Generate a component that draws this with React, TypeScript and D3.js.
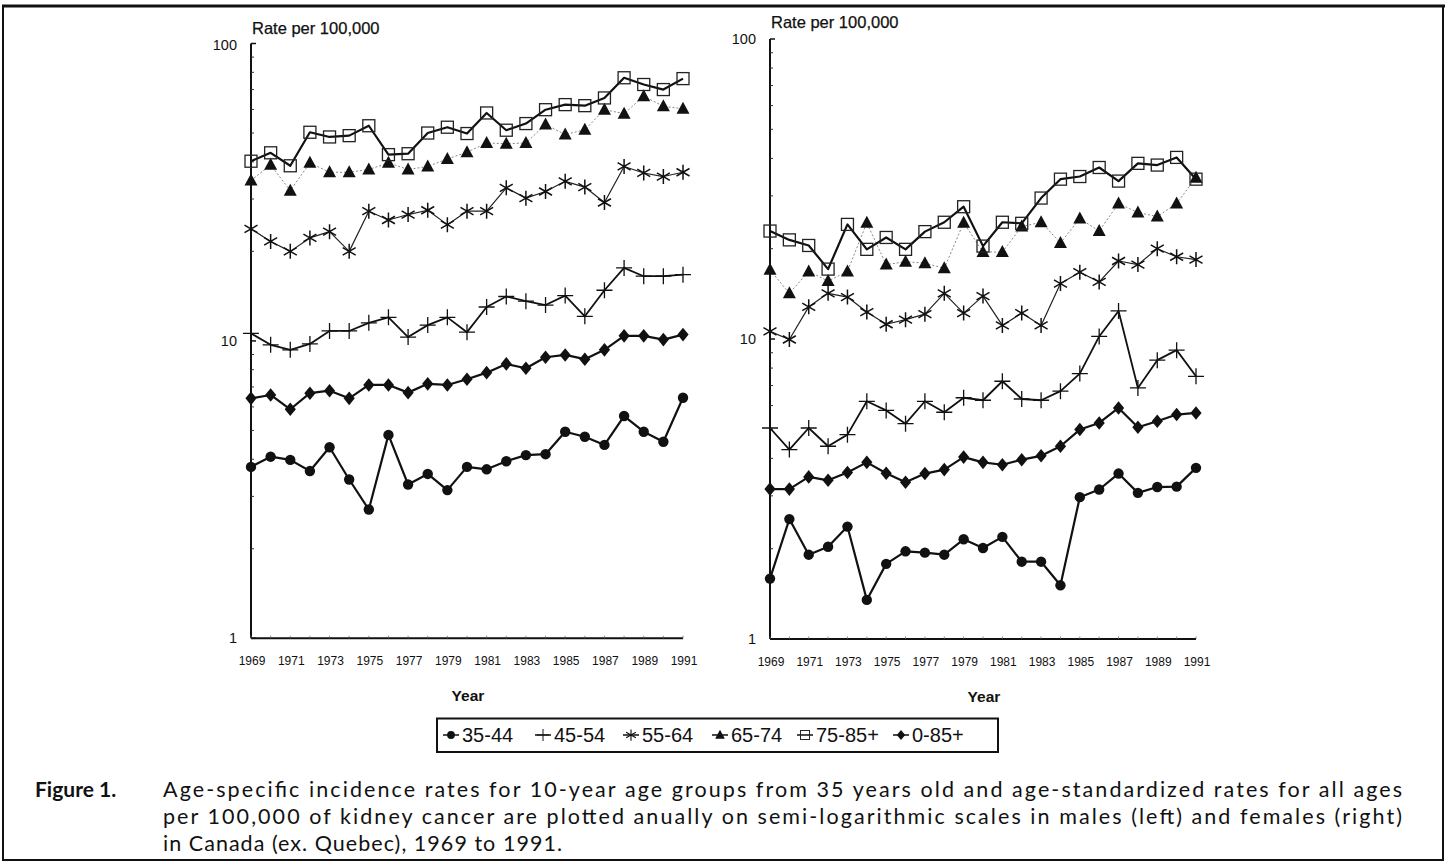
import React from "react";
import * as d3 from "d3";

const years = d3.range(1969, 1992);
const yearLabels = [1969, 1971, 1973, 1975, 1977, 1979, 1981, 1983, 1985, 1987, 1989, 1991];
const yTickLabels = [1, 10, 100];
const seriesNames = ["35-44", "45-54", "55-64", "65-74", "75-85+", "0-85+"];

// Males (left panel)
const m3544 = [3.77, 4.08, 3.98, 3.65, 4.39, 3.42, 2.71, 4.83, 3.29, 3.57, 3.15, 3.77, 3.7, 3.94, 4.13, 4.16, 4.95, 4.76, 4.47, 5.59, 4.95, 4.58, 6.44];
const m4554 = [10.6, 9.7, 9.33, 9.77, 10.8, 10.8, 11.5, 12.0, 10.3, 11.3, 12.0, 10.7, 13.0, 14.1, 13.6, 13.2, 14.2, 12.1, 14.8, 17.6, 16.5, 16.5, 16.7];
const m5564 = [23.8, 21.6, 20.0, 22.2, 23.3, 20.0, 27.3, 25.5, 26.6, 27.5, 24.6, 27.3, 27.3, 32.7, 30.2, 31.8, 34.4, 32.9, 29.2, 38.6, 36.7, 35.7, 36.9];
const m6574 = [34.6, 39.1, 32.0, 39.7, 36.9, 36.9, 37.7, 39.7, 37.7, 38.6, 40.9, 43.1, 46.3, 46.0, 46.3, 53.4, 49.4, 51.3, 59.9, 58.1, 66.5, 61.5, 60.3];
const m7585 = [40.2, 42.9, 38.8, 50.3, 48.5, 49.0, 52.9, 42.3, 42.6, 50.0, 52.3, 49.8, 58.4, 51.1, 53.8, 59.9, 62.3, 61.8, 65.6, 76.7, 72.8, 70.0, 76.2];
const m085 = [6.41, 6.58, 5.89, 6.67, 6.8, 6.41, 7.11, 7.11, 6.7, 7.17, 7.11, 7.43, 7.82, 8.37, 8.09, 8.81, 8.97, 8.68, 9.33, 10.4, 10.4, 10.1, 10.5];

// Females (right panel)
const f3544 = [1.59, 2.51, 1.91, 2.03, 2.37, 1.35, 1.78, 1.96, 1.94, 1.91, 2.15, 2.01, 2.19, 1.81, 1.81, 1.51, 2.97, 3.15, 3.56, 3.07, 3.21, 3.22, 3.72];
const f4554 = [5.05, 4.28, 5.05, 4.39, 4.8, 6.2, 5.78, 5.22, 6.2, 5.7, 6.37, 6.25, 7.23, 6.31, 6.25, 6.7, 7.67, 10.2, 12.4, 6.87, 8.5, 9.18, 7.51];
const f5564 = [10.6, 9.96, 12.8, 14.2, 13.8, 12.3, 11.2, 11.6, 12.1, 14.2, 12.2, 13.9, 11.1, 12.2, 11.1, 15.3, 16.7, 15.5, 18.2, 17.7, 20.0, 18.8, 18.4];
const f6574 = [17.0, 14.2, 16.8, 15.6, 16.8, 24.4, 17.7, 18.1, 17.9, 17.2, 24.4, 19.5, 19.5, 23.7, 24.5, 20.9, 25.2, 22.9, 28.3, 26.4, 25.6, 28.3, 34.5];
const f7585 = [22.9, 21.4, 20.5, 17.1, 24.1, 19.9, 21.8, 19.9, 22.8, 24.5, 27.6, 20.4, 24.5, 24.3, 29.5, 34.1, 34.8, 37.3, 33.6, 38.5, 38.0, 40.3, 34.1];
const f085 = [3.16, 3.16, 3.47, 3.38, 3.59, 3.88, 3.57, 3.33, 3.56, 3.67, 4.04, 3.88, 3.81, 3.96, 4.08, 4.39, 4.99, 5.25, 5.89, 5.08, 5.32, 5.6, 5.67];

const captionLines = [
  "Age-specific incidence rates for 10-year age groups from 35 years old and age-standardized rates for all ages",
  "per 100,000 of kidney cancer are plotted anually on semi-logarithmic scales in males (left) and females (right)",
  "in Canada (ex. Quebec), 1969 to 1991.",
];
const captionWidths = [1239, 1239, 399];

type Style = { marker: string; width: number; color: string; dash?: string };
const styles: Style[] = [
  { marker: "circle", width: 2.2, color: "#111" },
  { marker: "plus", width: 1.8, color: "#111" },
  { marker: "star", width: 1.2, color: "#222" },
  { marker: "triangle", width: 1, color: "#888", dash: "2,2" },
  { marker: "square", width: 2.2, color: "#111" },
  { marker: "diamond", width: 2.2, color: "#111" },
];

function Marker({ kind, x, y, s = 1 }: { kind: string; x: number; y: number; s?: number }) {
  const t = `translate(${x},${y}) scale(${s})`;
  if (kind === "circle") return <circle cx={x} cy={y} r={5.2 * s} fill="#111" />;
  if (kind === "plus")
    return <path transform={t} d="M-8,0H8M0,-8V8" stroke="#111" strokeWidth={1.3} fill="none" />;
  if (kind === "star") {
    const a = 7.5;
    const c = Math.cos(Math.PI / 6) * a;
    const sn = Math.sin(Math.PI / 6) * a;
    return (
      <path
        transform={t}
        d={`M0,${-a}V${a}M${-c},${-sn}L${c},${sn}M${-c},${sn}L${c},${-sn}`}
        stroke="#111"
        strokeWidth={1.5}
        fill="none"
      />
    );
  }
  if (kind === "triangle") return <path transform={t} d="M0,-7L6.5,5H-6.5Z" fill="#111" />;
  if (kind === "square")
    return <rect transform={t} x={-6} y={-6} width={12} height={12} fill="none" stroke="#222" strokeWidth={1.3} />;
  if (kind === "diamond") return <path transform={t} d="M0,-6.8L5.6,0L0,6.8L-5.6,0Z" fill="#111" />;
  return null;
}

function Panel({
  x0, x1, yTop, yBot, data, labelY, hundredY,
}: {
  x0: number; x1: number; yTop: number; yBot: number; data: number[][]; labelY: number; hundredY: number;
}) {
  const x = d3.scaleLinear().domain([1969, 1991]).range([x0, x1]);
  const y = d3.scaleLog().domain([1, 100]).range([yBot, yTop]);
  const line = d3.line<number>().x((_, i) => x(years[i])).y((v) => y(v));
  const minor: number[] = [];
  [1, 10].forEach((d) => d3.range(2, 10).forEach((m) => minor.push(d * m)));
  const order = [3, 2, 1, 0, 5, 4];
  return (
    <g>
      <text x={x0 + 1} y={labelY} fontFamily="Liberation Sans, Arial, sans-serif" fontSize={16.5} fill="#111" stroke="#111" strokeWidth={0.25}>
        Rate per 100,000
      </text>
      {/* axes */}
      <line x1={x0} x2={x0} y1={yTop} y2={yBot} stroke="#111" strokeWidth={2} />
      <line x1={x0} x2={x1} y1={yBot} y2={yBot} stroke="#111" strokeWidth={2} />
      {yTickLabels.map((v) => (
        <g key={v}>
          <line x1={x0} x2={x0 + 5} y1={y(v)} y2={y(v)} stroke="#111" strokeWidth={1.5} />
          <text
            x={x0 - 14}
            y={v === 100 ? hundredY : y(v)}
            textAnchor="end"
            dominantBaseline="central"
            fontFamily="Liberation Sans, Arial, sans-serif"
            fontSize={14.5}
            fill="#111"
          >
            {v}
          </text>
        </g>
      ))}
      {minor.map((v) => (
        <line key={v} x1={x0} x2={x0 + 3} y1={y(v)} y2={y(v)} stroke="#333" strokeWidth={1} />
      ))}
      {years.map((yr) => (
        <line key={yr} x1={x(yr)} x2={x(yr)} y1={yBot} y2={yBot - 2.5} stroke="#666" strokeWidth={0.8} />
      ))}
      {yearLabels.map((yr) => (
        <text
          key={yr}
          x={x(yr) + 1}
          y={yBot + 23}
          textAnchor="middle"
          dominantBaseline="central"
          fontFamily="Liberation Sans, Arial, sans-serif"
          fontSize={12}
          fill="#111"
        >
          {yr}
        </text>
      ))}
      <text
        x={(x0 + x1) / 2 + 1}
        y={yBot + 57}
        textAnchor="middle"
        dominantBaseline="central"
        fontFamily="Liberation Sans, Arial, sans-serif"
        fontSize={15.5}
        fontWeight="bold"
        fill="#111"
      >
        Year
      </text>
      {order.map((si) => (
        <g key={si}>
          <path
            d={line(data[si]) || ""}
            fill="none"
            stroke={styles[si].color}
            strokeWidth={styles[si].width}
            strokeDasharray={styles[si].dash}
            strokeLinejoin="round"
          />
          {data[si].map((v, i) => (
            <Marker key={i} kind={styles[si].marker} x={x(years[i])} y={y(v)} />
          ))}
        </g>
      ))}
    </g>
  );
}

export default function App() {
  const legendX = [443, 535, 623, 712, 797, 893];
  return (
    <svg
      width={1447}
      height={864}
      style={{ position: "absolute", left: 0, top: 0, background: "#fff" }}
      xmlns="http://www.w3.org/2000/svg"
    >
      <rect x={0} y={0} width={1447} height={864} fill="#fff" />
      {/* frame */}
      <line x1={2} x2={1445} y1={6} y2={6} stroke="#111" strokeWidth={3} />
      <line x1={3} x2={3} y1={5} y2={860} stroke="#111" strokeWidth={2} />
      <line x1={1443} x2={1443} y1={5} y2={860} stroke="#111" strokeWidth={2} />
      <line x1={2} x2={1444} y1={860} y2={860} stroke="#111" strokeWidth={2} />

      <Panel x0={251} x1={683} yTop={43.5} yBot={638.3} data={[m3544, m4554, m5564, m6574, m7585, m085]} labelY={34} hundredY={45} />
      <Panel x0={770} x1={1196} yTop={39} yBot={639} data={[f3544, f4554, f5564, f6574, f7585, f085]} labelY={28} hundredY={39} />

      {/* legend */}
      <rect x={437} y={718.5} width={561} height={33.5} fill="none" stroke="#111" strokeWidth={2} />
      {seriesNames.map((n, i) => {
        const sx = legendX[i];
        return (
          <g key={n}>
            <line x1={sx} x2={sx + 16} y1={735} y2={735} stroke="#111" strokeWidth={1.5} />
            <Marker kind={styles[i].marker} x={sx + 8} y={735} s={0.75} />
            <text
              x={sx + 19}
              y={735}
              dominantBaseline="central"
              fontFamily="Liberation Sans, Arial, sans-serif"
              fontSize={20}
              fill="#111"
            >
              {n}
            </text>
          </g>
        );
      })}

      {/* caption */}
      <text x={35} y={797} fontFamily="Lato, Open Sans, sans-serif" fontSize={21} fontWeight="bold" fill="#111">
        Figure 1.
      </text>
      {captionLines.map((l, i) => (
        <text
          key={i}
          x={163}
          y={797 + i * 27}
          fontFamily="Lato, Open Sans, sans-serif"
          fontSize={21.5}
          fill="#111"
          textLength={captionWidths[i]}
          lengthAdjust="spacing"
        >
          {l}
        </text>
      ))}
    </svg>
  );
}
